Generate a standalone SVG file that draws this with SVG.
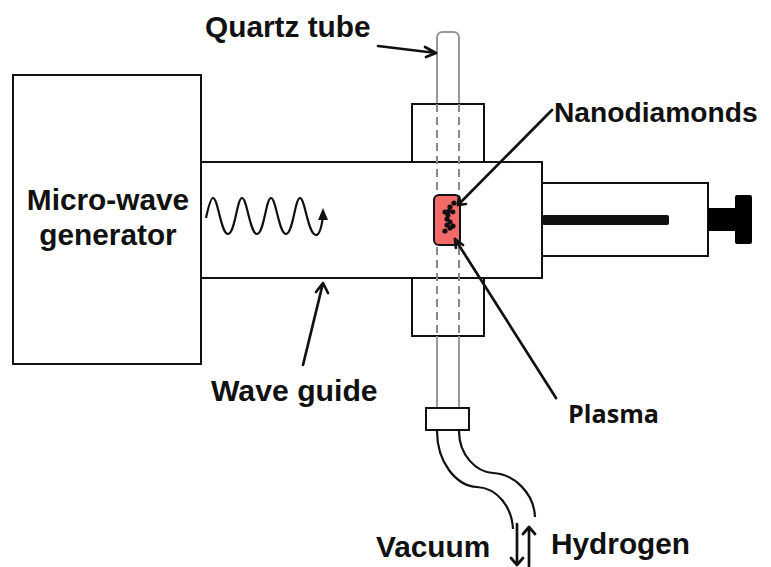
<svg xmlns="http://www.w3.org/2000/svg" width="771" height="567" viewBox="0 0 771 567">
<style>
.box{fill:#fff;stroke:#111;stroke-width:2}
.wire{fill:none;stroke:#111;stroke-width:2.2}
.tube{fill:none;stroke:#999;stroke-width:2}
.dash{fill:none;stroke:#888;stroke-width:2;stroke-dasharray:8 5}
.lbl{font-family:"Liberation Sans",Arial,sans-serif;font-weight:700;font-size:29.8px;fill:#111}
.arr{fill:none;stroke:#111;stroke-width:2.7;stroke-linecap:round;stroke-linejoin:round}
</style>
<rect width="771" height="567" fill="#fff"/>
<g id="quartz-tube-top"><path class="tube" d="M437 104V38Q437 32 443 32H453Q459 32 459 38V104"/></g>
<g id="flange-top"><rect class="box" x="412" y="104" width="72" height="58"/></g>
<g id="flange-bottom"><rect class="box" x="412" y="278" width="72" height="58"/></g>
<g id="generator"><rect class="box" x="13" y="75" width="188" height="289"/>
<text class="lbl" x="108" y="210" text-anchor="middle">Micro-wave</text><text class="lbl" x="108" y="245" text-anchor="middle">generator</text></g>
<g id="waveguide"><rect class="box" x="201" y="162" width="341" height="116"/>
<path class="wire" d="M206 218C209 204 211 198 213 198C218 198 221 234 228 234C235 234 237 198 242 198C247 198 250 234 257 234C264 234 266 198 271 198C276 198 279 234 286 234C293 234 295 198 300 198C305 198 308 235 316 235C320 235 322 224 323 216"/>
<path d="M323 208L318 220L328 220Z" fill="#111"/></g>
<g id="tuner"><rect class="box" x="542" y="183" width="166" height="73"/>
<rect x="542" y="215" width="127" height="10" rx="2" fill="#111"/>
<rect x="708" y="208" width="28" height="23" fill="#000"/>
<rect x="735" y="195" width="17" height="49" rx="2" fill="#000"/></g>
<g id="quartz-tube-mid"><path class="dash" d="M437 104V336"/><path class="dash" d="M459 104V336"/><path class="tube" d="M437 336V408M459 336V408"/></g>
<g id="plasma"><rect x="434" y="195" width="26" height="50" rx="5" fill="#f46a6a" stroke="#111" stroke-width="2"/>
<g fill="#111"><circle cx="454" cy="203" r="2.6"/><circle cx="450" cy="207" r="2.6"/><circle cx="445" cy="212" r="2.6"/><circle cx="449" cy="211" r="2.4"/><circle cx="453" cy="212" r="2.4"/><circle cx="448" cy="215" r="2.6"/><circle cx="447" cy="219" r="2.6"/><circle cx="450" cy="222" r="2.6"/><circle cx="447" cy="225" r="2.6"/><circle cx="453" cy="226" r="2.6"/><circle cx="450" cy="228" r="2.6"/><circle cx="445" cy="231" r="2.6"/></g></g>
<g id="connector-flange"><rect class="box" x="426" y="408" width="43" height="22"/></g>
<g id="hoses"><path class="wire" d="M437 431C437 462 456 486 477 487C498 488 512 508 513 529"/><path class="wire" d="M459 431C459 455 476 472 493 473C514 474 534 493 535 517"/></g>
<g id="connectors">
<path class="arr" d="M378 46L436 53M425 47L436 53L426 57"/>
<path class="arr" d="M552 110L458 205M466 204L458 205L459 197"/>
<path class="arr" d="M556 398L455 239M463 245L455 239L456 248"/>
<path class="arr" d="M303 365L323 283M316 292L323 283L328 293"/>
<path class="arr" d="M517 524V565M511 558L517 565L523 558"/>
<path class="arr" d="M529 527V566M523 534L529 527L535 534"/>
</g>
<g id="labels">
<text class="lbl" x="205" y="37">Quartz tube</text>
<text class="lbl" x="554" y="122" style="font-size:28.2px">Nanodiamonds</text>
<text class="lbl" x="211" y="401" style="font-size:30.2px">Wave guide</text>
<text x="568" y="423" font-family="Open Sans,Liberation Sans,sans-serif" font-weight="700" font-size="25" fill="#111" textLength="91" lengthAdjust="spacingAndGlyphs">Plasma</text>
<text class="lbl" x="376" y="557">Vacuum</text>
<text class="lbl" x="551" y="554">Hydrogen</text>
</g>
</svg>
